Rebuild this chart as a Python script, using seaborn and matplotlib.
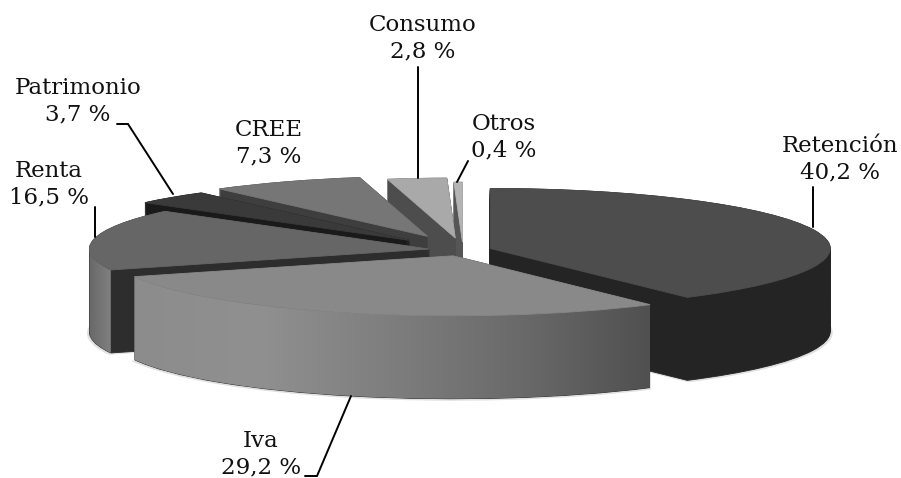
import numpy as np
import matplotlib
matplotlib.use('Agg')
import matplotlib.pyplot as plt
import seaborn as sns
from matplotlib.path import Path
from matplotlib.patches import PathPatch

# Data
labels = ['Retención', 'Iva', 'Renta', 'Patrimonio', 'CREE', 'Consumo', 'Otros']
values = [40.2, 29.2, 16.5, 3.7, 7.3, 2.8, 0.4]
value_labels = ['40,2 %', '29,2 %', '16,5 %', '3,7 %', '7,3 %', '2,8 %', '0,4 %']
explode = [0.084, 0.10, 0.10, 0.225, 0.25, 0.20, 0.13]

# colours
top_colors = ['#4d4d4d', '#898989', '#666666', '#3a3a3a', '#767676', '#a9a9a9', '#b4b4b4']
side_colors = ['#242424', '#2d2d2d', '#2d2d2d', '#1a1a1a', '#3e3e3e', '#4d4d4d', '#555555']
draw_order = [6, 5, 4, 3, 2, 0, 1]

# pie shape on the page, in pixels
W, H = 901, 478
cx, cy = 463, 250
rx, ry = 340, 60
depth = 83

sns.set_theme(style='white')
fig = plt.figure(figsize=(W / 100, H / 100), dpi=100)
ax = fig.add_axes([0, 0, 1, 1])
ax.axis('off')


def draw_pie(center_y, colors, order_z, radius=1):
    wedges, _ = ax.pie(values, explode=explode, colors=colors, startangle=90, radius=radius,
                       counterclock=False, center=(0, center_y), normalize=True,
                       wedgeprops={'linewidth': 0.6})
    for i, w in enumerate(wedges):
        w.set_edgecolor(colors[i])
        w.set_zorder(draw_order.index(i) * 10 + order_z)
    return wedges


# extrude the slices with stacked pies, then the top face
dy = depth / ry
shadow = draw_pie(-dy - 0.02, ['#e0e0e0'] * len(values), 0, radius=1.006)
for w in shadow:
    w.set_zorder(-1)
for k in np.linspace(dy, 0, depth):
    draw_pie(-k, side_colors, 1)
tops = draw_pie(0, top_colors, 5)


def shade_wall(wedge, colors, x0, x1, z_idx):
    # outer wall of a slice filled with a horizontal gradient, front half only
    t = np.radians(np.linspace(wedge.theta1, wedge.theta2, 200))
    t = t[np.sin(t) <= 0]
    xs = wedge.center[0] + np.cos(t)
    ys = wedge.center[1] + np.sin(t)
    verts = np.r_[np.c_[xs, ys], np.c_[xs, ys - dy][::-1], [[xs[0], ys[0]]]]
    clip = PathPatch(Path(verts), transform=ax.transData, fc='none', ec='none')
    ax.add_patch(clip)
    cmap = sns.blend_palette(colors, as_cmap=True)
    im = ax.imshow(np.linspace(0, 1, 256)[None, :], cmap=cmap, vmin=0, vmax=1, aspect='auto',
                   extent=((x0 - cx) / rx, (x1 - cx) / rx, -6, 6), zorder=z_idx * 10 + 3)
    im.set_clip_path(clip)


shade_wall(tops[1], ['#8c8c8c', '#909090', '#7e7e7e', '#6a6a6a', '#505050'], 130, 650, draw_order.index(1))
shade_wall(tops[2], ['#686868', '#808080'], 89, 111, draw_order.index(2))

ax.set_aspect('auto')
ax.set_xlim(-cx / rx, (W - cx) / rx)
ax.set_ylim((cy - H) / ry, cy / ry)

# labels and leader lines, in pixels
over = fig.add_axes([0, 0, 1, 1])
over.set_xlim(0, W)
over.set_ylim(H, 0)
over.axis('off')
over.patch.set_alpha(0)

label_pos = {
    'Retención': (840, 159), 'Iva': (261, 454), 'Renta': (49, 184),
    'Patrimonio': (78, 101), 'CREE': (269, 143), 'Consumo': (423, 38), 'Otros': (504, 137),
}
for name, val in zip(labels, value_labels):
    x, y = label_pos[name]
    over.text(x, y, name + '\n' + val, ha='center', va='center', family='DejaVu Serif',
              fontsize=16.5, color='#111111', linespacing=1.28, clip_on=False)

leaders = [
    [(813, 187), (813, 227)],
    [(418, 67), (418, 178)],
    [(468, 161), (457, 182)],
    [(117, 124), (128, 124), (173, 194)],
    [(95, 207), (95, 237)],
    [(351, 396), (317, 476), (305, 476)],
]
for pts in leaders:
    xs, ys = zip(*pts)
    over.plot(xs, ys, color='black', lw=1.4, solid_joinstyle='miter')

fig.savefig('out.png', dpi=100)
